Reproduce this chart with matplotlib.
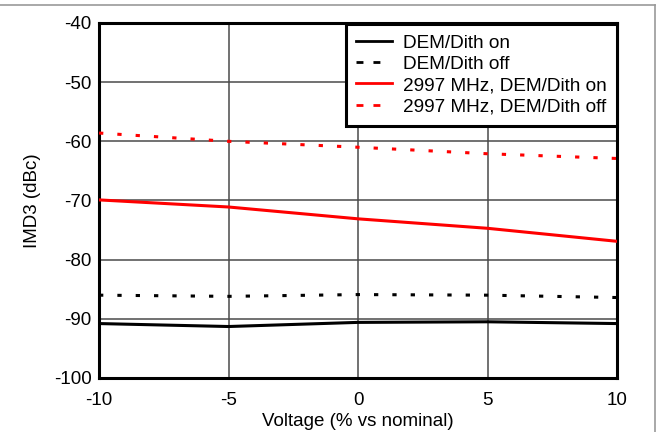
import matplotlib
matplotlib.use("Agg")
import matplotlib.pyplot as plt
from matplotlib.lines import Line2D

plt.rcParams['font.family'] = ['Liberation Sans', 'DejaVu Sans']
plt.rcParams['axes.unicode_minus'] = False

voltage = [-10, -5, 0, 5, 10]
dem_on = [-90.8, -91.3, -90.6, -90.5, -90.8]
dem_off = [-86.0, -86.2, -85.9, -86.0, -86.4]
mhz_on = [-69.9, -71.1, -73.1, -74.7, -76.9]
mhz_off = [-58.6, -60.0, -61.0, -62.1, -62.9]

labels = ["DEM/Dith on", "DEM/Dith off", "2997 MHz, DEM/Dith on", "2997 MHz, DEM/Dith off"]
xticks = [-10, -5, 0, 5, 10]
yticks = [-100, -90, -80, -70, -60, -50, -40]

fig = plt.figure(figsize=(6.58, 4.32), dpi=100)
ax = fig.add_axes([0.1505, 0.125, 0.7872, 0.8218])

dot = (0, (1.4, 4.6))
ax.plot(voltage, dem_on, color='black', lw=2.2, zorder=3)
ax.plot(voltage, dem_off, color='black', lw=2.2, linestyle=dot, zorder=3)
ax.plot(voltage, mhz_on, color='red', lw=2.2, zorder=3)
ax.plot(voltage, mhz_off, color='red', lw=2.2, linestyle=dot, zorder=3)

ax.set_xlim(-10, 10)
ax.set_ylim(-100, -40)
ax.set_xticks(xticks)
ax.set_yticks(yticks)
ax.grid(True, color='#4a4a4a', lw=1.1, zorder=1)
ax.tick_params(length=0, labelsize=13.5)
ax.tick_params(axis='x', pad=10)
ax.tick_params(axis='y', pad=5.5)
for s in ax.spines.values():
    s.set_linewidth(2.2)
    s.set_color('black')
ax.set_xlabel("Voltage (% vs nominal)", fontsize=13.5, labelpad=3)
ax.set_ylabel("IMD3 (dBc)", fontsize=13.5, labelpad=9)

ldash = (0, (2.5, 3.6, 2.5, 12))
handles = [
    Line2D([], [], color='black', lw=2),
    Line2D([], [], color='black', lw=2, linestyle=ldash),
    Line2D([], [], color='red', lw=2),
    Line2D([], [], color='red', lw=2, linestyle=ldash),
]
leg = ax.legend(handles, labels, loc='upper right', bbox_to_anchor=(1.0, 0.997),
                fontsize=13.7, frameon=True, fancybox=False, framealpha=1,
                edgecolor='black', handlelength=1.9, handletextpad=0.55,
                labelspacing=0.2, borderpad=0.55, borderaxespad=0.0)
leg.get_frame().set_linewidth(2.2)
leg.set_zorder(5)

fig.add_artist(Line2D([0, 0.995], [0.989, 0.989], transform=fig.transFigure, color='#999999', lw=1.2))
fig.add_artist(Line2D([0.995, 0.995], [0, 0.989], transform=fig.transFigure, color='#999999', lw=1.2))

fig.savefig("out.png", dpi=100)
